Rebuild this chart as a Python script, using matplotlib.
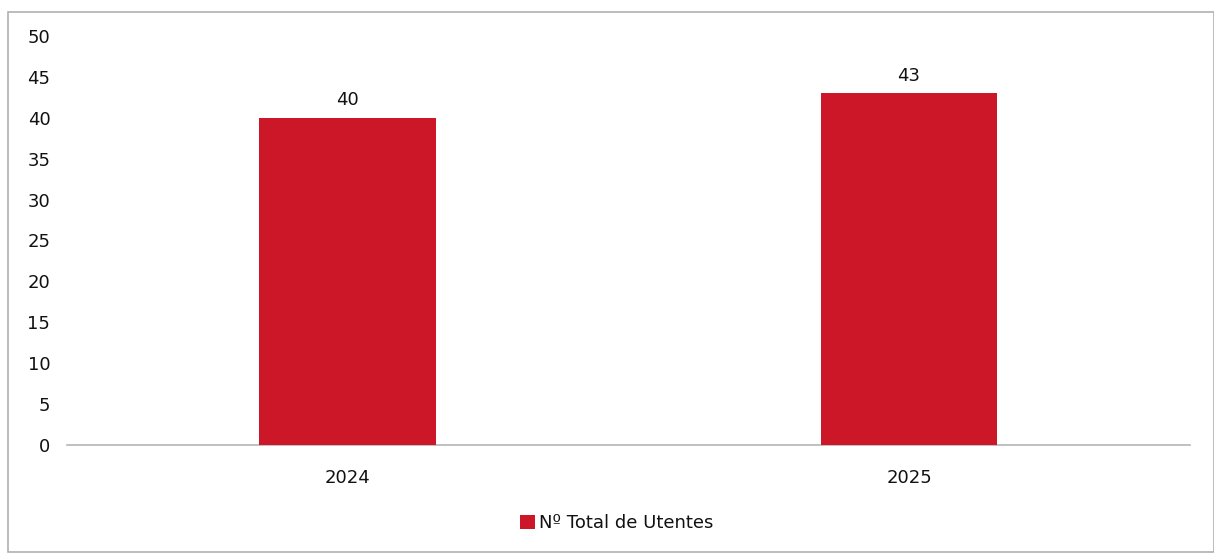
import matplotlib
matplotlib.use("Agg")
import matplotlib.pyplot as plt
from matplotlib.patches import Rectangle

categories = ["2024", "2025"]
values = [40, 43]
series_name = "Nº Total de Utentes"
yticks = [0, 5, 10, 15, 20, 25, 30, 35, 40, 45, 50]

bar_color = "#cc1729"

plt.rcParams['font.family'] = ['DejaVu Sans']

fig = plt.figure(figsize=(12.14, 5.54), dpi=100)
ax = fig.add_axes([0.0552, 0.1968, 0.9248, 0.7382])

x = list(range(len(categories)))
bars = ax.bar(x, values, width=0.315, color=bar_color, label=series_name, zorder=3)
ax.set_xlim(-0.5, len(categories) - 0.5)
ax.set_ylim(0, 50)
ax.set_yticks(yticks)
ax.set_xticks(x)
ax.set_xticklabels(categories)
ax.tick_params(axis='y', length=0, pad=12, labelsize=13, colors='#111111')
ax.tick_params(axis='x', length=0, pad=17, labelsize=13, colors='#111111')
for s in ['top', 'right', 'left']:
    ax.spines[s].set_visible(False)
ax.spines['bottom'].set_color('#b5b5b5')
ax.spines['bottom'].set_linewidth(1.2)

ax.bar_label(bars, labels=[str(v) for v in values], padding=6, fontsize=13, color='#111111')

leg = fig.legend(handles=[bars], labels=[series_name], loc='center', bbox_to_anchor=(0.508, 0.056),
                 frameon=False, fontsize=13, handlelength=0.8, handleheight=0.8, handletextpad=0.2)
for t in leg.get_texts():
    t.set_color('#111111')

fig.patches.append(Rectangle((8/1214, 2/554), 1 - 8/1214, 1 - 14/554, transform=fig.transFigure,
                             fill=False, edgecolor='#b0b0b0', linewidth=1.2))

fig.savefig("out.png", dpi=100)
